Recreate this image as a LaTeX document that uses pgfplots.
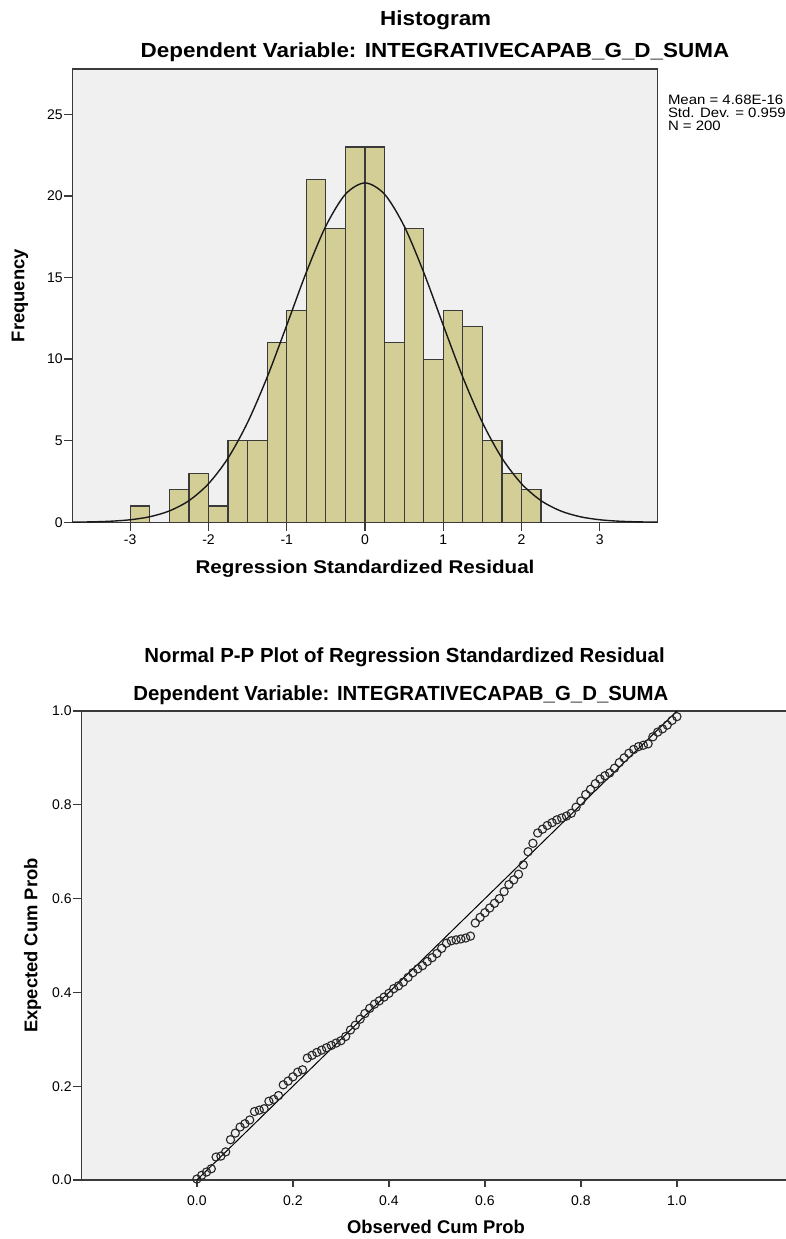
\documentclass[border=0pt]{standalone}
\usepackage{pgfplots}
\pgfplotsset{compat=1.18}
\usepackage{pgfplotstable}
\usepackage{graphicx}
\usepackage{fontspec}
\setmainfont{Liberation Sans}
\definecolor{bgray}{HTML}{F0F0F0}
\definecolor{barfill}{HTML}{D3CE96}
\definecolor{axcol}{HTML}{3A3A3A}

\pgfplotstableread{
x y
0.00 0.002
0.01 0.010
0.02 0.017
0.03 0.024
0.04 0.049
0.05 0.051
0.06 0.060
0.07 0.086
0.08 0.100
0.09 0.113
0.10 0.120
0.11 0.128
0.12 0.146
0.13 0.149
0.14 0.152
0.15 0.168
0.16 0.172
0.17 0.180
0.18 0.203
0.19 0.211
0.20 0.220
0.21 0.230
0.22 0.235
0.23 0.260
0.24 0.266
0.25 0.272
0.26 0.277
0.27 0.282
0.28 0.287
0.29 0.292
0.30 0.297
0.31 0.306
0.32 0.320
0.33 0.330
0.34 0.343
0.35 0.355
0.36 0.366
0.37 0.375
0.38 0.382
0.39 0.390
0.40 0.398
0.41 0.408
0.42 0.414
0.43 0.422
0.44 0.432
0.45 0.442
0.46 0.450
0.47 0.457
0.48 0.466
0.49 0.474
0.50 0.483
0.51 0.494
0.52 0.505
0.53 0.510
0.54 0.512
0.55 0.514
0.56 0.516
0.57 0.520
0.58 0.548
0.59 0.560
0.60 0.570
0.61 0.580
0.62 0.590
0.63 0.600
0.64 0.615
0.65 0.630
0.66 0.640
0.67 0.652
0.68 0.672
0.69 0.700
0.70 0.718
0.71 0.740
0.72 0.748
0.73 0.756
0.74 0.762
0.75 0.768
0.76 0.772
0.77 0.776
0.78 0.782
0.79 0.795
0.80 0.808
0.81 0.822
0.82 0.833
0.83 0.845
0.84 0.855
0.85 0.862
0.86 0.868
0.87 0.878
0.88 0.890
0.89 0.900
0.90 0.910
0.91 0.918
0.92 0.924
0.93 0.927
0.94 0.930
0.95 0.945
0.96 0.955
0.97 0.962
0.98 0.970
0.99 0.980
1.00 0.988
}\ppdata

\begin{document}
\begin{tikzpicture}[x=1pt,y=1pt]
\useasboundingbox (0,0) rectangle (393,-619.5);

% ---------- Histogram ----------
\node[anchor=base, inner sep=0, font=\bfseries\fontsize{10.2}{12}\selectfont] at (217.85,-12.5) {\scalebox{1.1}[1]{Histogram}};
\node[anchor=base, inner sep=0, font=\bfseries\fontsize{10.2}{12}\selectfont] at (217.5,-28.5) {\scalebox{1.1}[1]{Dependent Variable: INTEGRATIVECAPAB\_G\_D\_SUMA}};
\node[anchor=base west, inner sep=0, font=\fontsize{6.8}{8}\selectfont] at (333.8,-52.3) {\scalebox{1.1}[1]{Mean = 4.68E-16}};
\node[anchor=base west, inner sep=0, font=\fontsize{6.8}{8}\selectfont] at (333.8,-58.8) {\scalebox{1.1}[1]{Std. Dev. = 0.959}};
\node[anchor=base west, inner sep=0, font=\fontsize{6.8}{8}\selectfont] at (333.8,-65.3) {\scalebox{1.1}[1]{N = 200}};
\node[anchor=base, inner sep=0, font=\bfseries\fontsize{9.2}{11}\selectfont] at (182.5,-286.7) {\scalebox{1.12}[1]{Regression Standardized Residual}};
\node[rotate=90, inner sep=0, font=\bfseries\fontsize{9.2}{11}\selectfont] at (10,-147.85) {Frequency};

\begin{axis}[
  at={(36.35pt,-34.5pt)}, anchor=north west,
  scale only axis, width=292.3pt, height=226.65pt,
  xmin=-3.735, xmax=3.735, ymin=0, ymax=27.78,
  axis background/.style={fill=bgray},
  axis line style={axcol, line width=0.65pt},
  xtick={-3,-2,-1,0,1,2,3}, xticklabels={-3,-2,-1,0,1,2,3},
  ytick={0,5,10,15,20,25}, yticklabels={0,5,10,15,20,25},
  xtick pos=left, ytick pos=left,
  tick align=outside, major tick length=4.25pt,
  tick style={axcol, line width=0.65pt},
  ticklabel style={font=\fontsize{7}{8}\selectfont, text=black},
  xticklabel style={inner ysep=2pt},
  yticklabel style={inner xsep=0.6pt},
]
\addplot[ybar interval, fill=barfill, draw=axcol, line width=0.6pt] coordinates {
(-3,1) (-2.75,0) (-2.5,2) (-2.25,3) (-2,1) (-1.75,5) (-1.5,5) (-1.25,11) (-1,13)
(-0.75,21) (-0.5,18) (-0.25,23) (0,23) (0.25,11) (0.5,18) (0.75,10) (1,13)
(1.25,12) (1.5,5) (1.75,3) (2,2) (2.25,0)};
\addplot[smooth, mark=none, black!90, line width=0.7pt] coordinates {
(-3.75,0.0099) (-3.5,0.0266) (-3.25,0.0667) (-3,0.156) (-2.75,0.341) (-2.5,0.696)
(-2.25,1.326) (-2,2.364) (-1.75,3.935) (-1.5,6.121) (-1.25,8.895) (-1,12.077)
(-0.75,15.320) (-0.5,18.157) (-0.25,20.105) (0,20.80) (0.25,20.105) (0.5,18.157)
(0.75,15.320) (1,12.077) (1.25,8.895) (1.5,6.121) (1.75,3.935) (2,2.364)
(2.25,1.326) (2.5,0.696) (2.75,0.341) (3,0.156) (3.25,0.0667) (3.5,0.0266) (3.75,0.0099)};
\end{axis}

% ---------- P-P plot ----------
\node[anchor=base west, inner sep=0, font=\bfseries\fontsize{10.2}{12}\selectfont] at (72,-331.35) {Normal P-P Plot of Regression Standardized Residual};
\node[anchor=base west, inner sep=0, font=\bfseries\fontsize{10.2}{12}\selectfont] at (66.5,-350.35) {Dependent Variable: INTEGRATIVECAPAB\_G\_D\_SUMA};
\node[anchor=base, inner sep=0, font=\bfseries\fontsize{9.2}{11}\selectfont] at (218,-616.6) {Observed Cum Prob};
\node[rotate=90, inner sep=0, font=\bfseries\fontsize{9.2}{11}\selectfont] at (16.3,-472.75) {Expected Cum Prob};

\begin{axis}[
  at={(40.85pt,-355.5pt)}, anchor=north west,
  scale only axis, width=355.2pt, height=234.5pt,
  xmin=-0.24, xmax=1.24, ymin=0, ymax=1,
  axis background/.style={fill=bgray},
  axis line style={axcol, line width=0.65pt},
  xtick={0,0.2,0.4,0.6,0.8,1}, xticklabels={0.0,0.2,0.4,0.6,0.8,1.0},
  ytick={0,0.2,0.4,0.6,0.8,1}, yticklabels={0.0,0.2,0.4,0.6,0.8,1.0},
  xtick pos=left, ytick pos=left,
  tick align=outside,
  xtick style={axcol, line width=0.65pt, /pgfplots/major tick length=3.35pt},
  ytick style={axcol, line width=0.65pt, /pgfplots/major tick length=4.5pt},
  ticklabel style={font=\fontsize{7}{8}\selectfont, text=black},
  xticklabel style={inner ysep=3.3pt},
  yticklabel style={inner xsep=0.6pt},
]
\addplot[mark=none, black, line width=0.5pt] coordinates {(0,0) (1,1)};
\addplot[only marks, mark=o, mark size=2.05pt, mark options={draw=black!85, line width=0.55pt}] table[x=x, y=y] {\ppdata};
\end{axis}
\end{tikzpicture}
\end{document}
